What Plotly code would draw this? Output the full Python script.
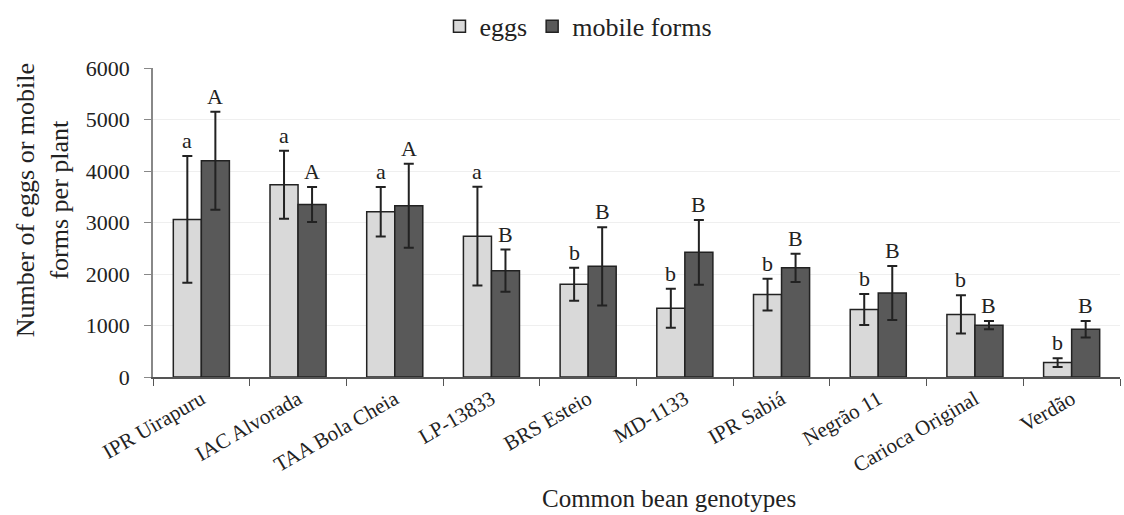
import plotly.graph_objects as go

genotypes = ["IPR Uirapuru", "IAC Alvorada", "TAA Bola Cheia", "LP-13833", "BRS Esteio",
             "MD-1133", "IPR Sabiá", "Negrão 11", "Carioca Original", "Verdão"]
eggs = [3060, 3735, 3210, 2735, 1800, 1335, 1600, 1310, 1215, 280]
eggs_err = [1230, 660, 480, 960, 320, 380, 310, 300, 370, 85]
mobile = [4200, 3350, 3325, 2065, 2150, 2420, 2120, 1630, 1005, 925]
mobile_err = [950, 340, 815, 410, 760, 630, 275, 525, 80, 160]
eggs_letters = ["a", "a", "a", "a", "b", "b", "b", "b", "b", "b"]
mobile_letters = ["A", "A", "A", "B", "B", "B", "B", "B", "B", "B"]

FF = "Liberation Serif"

fig = go.Figure()
fig.add_trace(go.Bar(
    name="eggs", x=genotypes, y=eggs,
    marker=dict(color="#d9d9d9", line=dict(color="#222222", width=1.5)),
    error_y=dict(type="data", array=eggs_err, color="#222222", thickness=2, width=5),
))
fig.add_trace(go.Bar(
    name="mobile forms", x=genotypes, y=mobile,
    marker=dict(color="#595959", line=dict(color="#222222", width=1.5)),
    error_y=dict(type="data", array=mobile_err, color="#222222", thickness=2, width=5),
))

annotations = []
for g, v, e, t in zip(genotypes, eggs, eggs_err, eggs_letters):
    annotations.append(dict(x=g, y=v + e, text=t, showarrow=False, xref="x", yref="y",
                            xshift=-14, yanchor="bottom", yshift=1,
                            font=dict(family=FF, size=22, color="#222")))
for g, v, e, t in zip(genotypes, mobile, mobile_err, mobile_letters):
    annotations.append(dict(x=g, y=v + e, text=t, showarrow=False, xref="x", yref="y",
                            xshift=14, yanchor="bottom", yshift=1,
                            font=dict(family=FF, size=22, color="#222")))
annotations.append(dict(text="Common bean genotypes", x=0.534, y=-0.392, xref="paper", yref="paper",
                        xanchor="center", yanchor="middle", showarrow=False,
                        font=dict(family=FF, size=25, color="#222")))
annotations.append(dict(text="Number of eggs or mobile<br>forms per plant", x=-0.114, y=0.571,
                        xref="paper", yref="paper", xanchor="center", yanchor="middle",
                        textangle=-90, showarrow=False,
                        font=dict(family=FF, size=26, color="#222")))

fig.update_layout(
    width=1124, height=515,
    margin=dict(l=153, r=4, t=67, b=138),
    paper_bgcolor="white", plot_bgcolor="white",
    barmode="group", bargap=0.42, bargroupgap=0,
    font=dict(family=FF, size=20, color="#222"),
    annotations=annotations,
    legend=dict(orientation="h", x=0.44, xanchor="center", y=1.055, yanchor="bottom",
                font=dict(family=FF, size=26, color="#222"),
                itemwidth=30, traceorder="normal"),
    showlegend=True,
)
fig.update_yaxes(
    range=[0, 6000], tickvals=[0, 1000, 2000, 3000, 4000, 5000, 6000],
    showgrid=True, gridcolor="#efefef", gridwidth=1,
    showline=True, linecolor="#888", linewidth=1.5,
    ticks="outside", ticklen=7, tickcolor="#888",
    ticklabelstandoff=10,
    tickfont=dict(family=FF, size=22, color="#222"),
    zeroline=False,
)
fig.update_xaxes(
    showline=True, linecolor="#555", linewidth=1.5,
    ticks="outside", tickson="boundaries", ticklen=7, tickcolor="#555",
    tickangle=-30,
    tickfont=dict(family=FF, size=21, color="#222"),
)

fig.write_html("out.html")
